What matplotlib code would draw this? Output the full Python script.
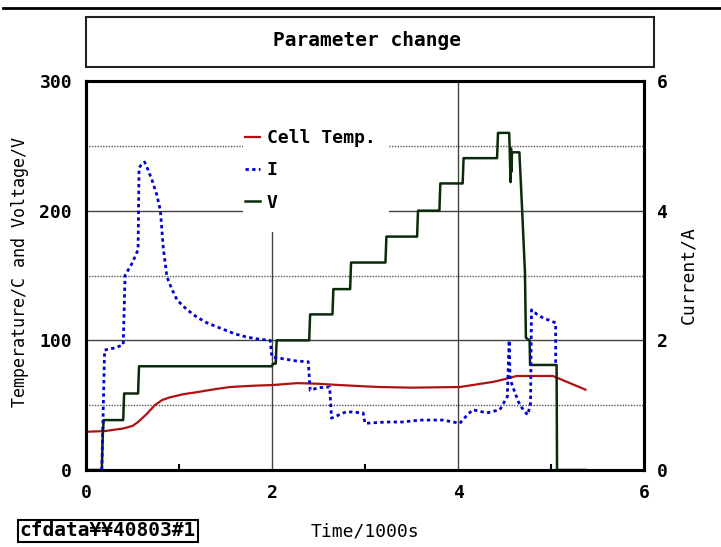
import matplotlib
matplotlib.use("Agg")
import matplotlib.pyplot as plt
from matplotlib.lines import Line2D
from matplotlib.patches import Rectangle

plt.rcParams['font.family'] = ['DejaVu Sans Mono']
plt.rcParams['font.weight'] = 'bold'

# time in 1000 s
t_temp = [0, 0.2, 0.3, 0.4, 0.5, 0.56, 0.65, 0.74, 0.82, 0.9, 1.05, 1.19, 1.4, 1.55,
          1.8, 2.0, 2.27, 2.5, 2.73, 3.0, 3.16, 3.5, 4.02, 4.2, 4.38, 4.5, 4.63, 4.8,
          5.02, 5.37]
cell_temp = [29.5, 30, 31, 32, 34, 37, 43, 50, 54, 56, 58.5, 60, 62.5, 64,
             65, 65.5, 67, 66.5, 65.5, 64.5, 64, 63.5, 64, 66, 68, 70, 72.5, 72.5,
             72.5, 62]

t_volt = [0, 0.17, 0.18, 0.19, 0.4, 0.41, 0.56, 0.57, 2.0, 2.01, 2.04, 2.05, 2.4, 2.41,
          2.65, 2.66, 2.84, 2.85, 3.22, 3.23, 3.56, 3.57, 3.8, 3.81, 4.05, 4.06, 4.42,
          4.43, 4.55, 4.555, 4.565, 4.57, 4.575, 4.58, 4.66, 4.69, 4.72, 4.73, 4.77,
          4.775, 5.06, 5.065, 5.37]
volt = [0, 0, 27, 38.5, 38.5, 59, 59, 80, 80, 82, 82, 100, 100, 120,
        120, 139.5, 139.5, 160, 160, 180, 180, 200, 200, 221, 221, 240.5, 240.5,
        260, 260, 250, 222, 248, 230, 245, 245, 200, 152, 102, 100,
        81, 81, 0, 0]

t_cur = [0.17, 0.2, 0.3, 0.4, 0.42, 0.5, 0.56, 0.57, 0.6, 0.63, 0.67, 0.71, 0.76, 0.8,
         0.83, 0.87, 0.92, 0.98, 1.08, 1.19, 1.3, 1.44, 1.6, 1.73, 1.85, 1.98, 2.0, 2.1,
         2.27, 2.39, 2.41, 2.5, 2.62, 2.64, 2.8, 2.98, 3.0, 3.23, 3.4, 3.59, 3.84, 4.02,
         4.1, 4.16, 4.31, 4.45, 4.53, 4.55, 4.56, 4.59, 4.65, 4.7, 4.75, 4.78, 4.79,
         4.85, 4.91, 5.05, 5.05]
current = [0, 1.85, 1.88, 1.93, 3.0, 3.2, 3.4, 4.66, 4.72, 4.75, 4.62, 4.47, 4.25, 4.0,
           3.44, 2.98, 2.8, 2.62, 2.48, 2.36, 2.27, 2.19, 2.1, 2.05, 2.02, 2.0, 1.74, 1.72,
           1.68, 1.67, 1.23, 1.27, 1.28, 0.8, 0.9, 0.88, 0.72, 0.74, 0.74, 0.77, 0.77, 0.72,
           0.85, 0.93, 0.88, 0.93, 1.13, 2.0, 1.4, 1.28, 1.05, 0.93, 0.85, 1.03, 2.47,
           2.4, 2.35, 2.27, 1.62]

x_ticks = [0, 2, 4, 6]
left_ticks = [0, 100, 200, 300]
right_ticks = [0, 2, 4, 6]

fig = plt.figure(figsize=(7.21, 5.47), dpi=100)
ax = fig.add_axes([86/721, 1-470/547, 558/721, 389/547])
ax2 = ax.twinx()

# grid
for y in [100, 200]:
    ax.axhline(y, color='#444444', lw=1.0, zorder=0.5)
for y in [50, 150, 250]:
    ax.axhline(y, color='#555555', lw=1.0, ls=(0, (1, 1)), zorder=0.5)
for x in [2, 4]:
    ax.axvline(x, color='#444444', lw=1.0, zorder=0.5)

# white legend background hiding the grid
ax.add_patch(Rectangle((0.281, 0.612), 0.262, 0.4, transform=ax.transAxes,
                       facecolor='white', edgecolor='none', zorder=1))

l1, = ax.plot(t_temp, cell_temp, color='#b01010', lw=1.6, zorder=3)
l3, = ax.plot(t_volt, volt, color='#0a2a0a', lw=1.8, zorder=4)
l2, = ax2.plot(t_cur, current, color='#0000d0', lw=2.0, ls=(0, (1.2, 1.2)), zorder=3)

ax.set_xlim(0, 6)
ax.set_ylim(0, 300)
ax2.set_ylim(0, 6)
ax.set_xticks(x_ticks)
ax.set_yticks(left_ticks)
ax2.set_yticks(right_ticks)
ax.set_xticks([1, 3, 5], minor=True)
ax.tick_params(axis='both', which='major', length=0, labelsize=13, pad=10)
ax.tick_params(axis='x', which='minor', direction='in', length=4, width=1.5)
ax.tick_params(axis='y', which='minor', length=0)
ax2.tick_params(axis='y', length=0, labelsize=13, pad=9)

for a in (ax, ax2):
    for s in a.spines.values():
        s.set_linewidth(2.2)
        s.set_color('black')

ax.set_ylabel('Temperature/C and Voltage/V', fontsize=12, va='center')
ax.yaxis.set_label_coords(-0.118, 0.51)
ax2.set_ylabel('Current/A', fontsize=13, va='center')
ax2.yaxis.set_label_coords(1.079, 0.50)
ax.set_xlabel('Time/1000s', fontsize=13, va='center')
ax.xaxis.set_label_coords(0.5, -0.157)

ax2.legend([l1, l2, l3], ['Cell Temp.', 'I', 'V'], loc='upper left',
           bbox_to_anchor=(0.285, 0.877), frameon=False, fontsize=13,
           handlelength=0.85, handletextpad=0.35, labelspacing=0.8,
           borderpad=0, borderaxespad=0)

# top rule and title box
fig.add_artist(Line2D([0.004, 1.0], [1-8/547, 1-8/547], transform=fig.transFigure,
                      color='black', lw=2))
fig.add_artist(Rectangle((86/721, 1-67/547), 568/721, 50/547, transform=fig.transFigure,
                         facecolor='white', edgecolor='#222222', lw=1.5))
fig.text(367/721, 1-41/547, 'Parameter change', ha='center', va='center', fontsize=14)

fig.text(108/721, 1-531/547, 'cfdata¥¥40803#1', ha='center', va='center', fontsize=14,
         bbox=dict(boxstyle='square,pad=0.1', facecolor='white', edgecolor='black', lw=1.5))

fig.savefig('out.png', dpi=100)
